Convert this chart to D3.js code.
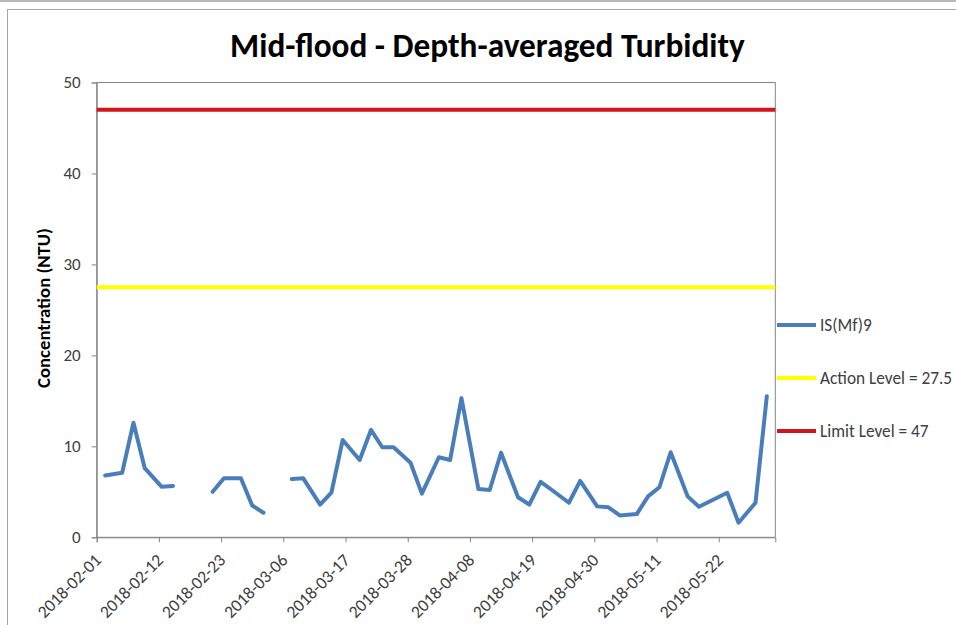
<!DOCTYPE html>
<html>
<head>
<meta charset="utf-8">
<script src="https://cdn.jsdelivr.net/npm/d3@7/dist/d3.min.js"></script>
<style>
  html, body { margin: 0; padding: 0; background: #ffffff; }
  svg { display: block; }
  text { font-family: Carlito, Calibri, Lato, "Open Sans", sans-serif; }
</style>
</head>
<body>
<svg id="chart" width="956" height="625"></svg>
<script>
// ---------------- data ----------------
const sampleDates = [
  "2018-02-02","2018-02-05","2018-02-07","2018-02-09","2018-02-12","2018-02-14","2018-02-16",
  "2018-02-21","2018-02-23","2018-02-26","2018-02-28","2018-03-02","2018-03-05",
  "2018-03-07","2018-03-09","2018-03-12","2018-03-14","2018-03-16","2018-03-19","2018-03-21",
  "2018-03-23","2018-03-25","2018-03-28","2018-03-30","2018-04-02","2018-04-04","2018-04-06",
  "2018-04-09","2018-04-11","2018-04-13","2018-04-16","2018-04-18","2018-04-20","2018-04-22",
  "2018-04-25","2018-04-27","2018-04-30","2018-05-02","2018-05-04","2018-05-07","2018-05-09",
  "2018-05-11","2018-05-13","2018-05-16","2018-05-18","2018-05-23","2018-05-25","2018-05-28",
  "2018-05-30"
];
const turbidity = [
  6.8, 7.1, 12.6, 7.6, 5.55, 5.65, null,
  5.0, 6.5, 6.5, 3.5, 2.7, null,
  6.4, 6.5, 3.6, 4.9, 10.7, 8.5, 11.8,
  9.9, 9.9, 8.2, 4.8, 8.8, 8.5, 15.3,
  5.3, 5.2, 9.3, 4.4, 3.6, 6.1, 5.2,
  3.8, 6.2, 3.4, 3.3, 2.4, 2.55, 4.5,
  5.5, 9.35, 4.5, 3.35, 4.9, 1.6, 3.8,
  15.5
];
const seriesName = "IS(Mf)9";
const actionLevel = 27.5;
const limitLevel = 47;
const legendLabels = ["IS(Mf)9", "Action Level = 27.5", "Limit Level = 47"];
const xDomain = ["2018-02-01", "2018-06-01"];
const xTickLabels = ["2018-02-01","2018-02-12","2018-02-23","2018-03-06","2018-03-17","2018-03-28",
                     "2018-04-08","2018-04-19","2018-04-30","2018-05-11","2018-05-22"];
const yTicks = [0, 10, 20, 30, 40, 50];
const titleText = "Mid-flood - Depth-averaged Turbidity";
const yTitle = "Concentration (NTU)";

// ---------------- layout ----------------
const svg = d3.select("#chart");
const W = 956, H = 625;
const plot = { left: 96.7, right: 775.3, top: 82.5, bottom: 537.3 };
const colors = { series: "#4A7EBB", action: "#FFFF00", limit: "#D0161A", axis: "#868686", text: "#404040" };

const parse = d3.utcParse("%Y-%m-%d");
const HALF_DAY = 12 * 3600 * 1000;

const x = d3.scaleUtc().domain(xDomain.map(parse)).range([plot.left, plot.right]);
const y = d3.scaleLinear().domain([0, 50]).range([plot.bottom, plot.top]);

// outer frame
svg.append("line").attr("x1", 0).attr("x2", W).attr("y1", 1).attr("y2", 1)
   .attr("stroke", "#A0A0A0").attr("stroke-width", 1.5);
svg.append("rect").attr("x", 7.5).attr("y", 9.5).attr("width", W + 20).attr("height", H + 20)
   .attr("fill", "none").attr("stroke", "#A6A6A6").attr("stroke-width", 1);

// title
const title = svg.append("text")
  .attr("x", 487.5).attr("y", 57)
  .attr("text-anchor", "middle")
  .attr("font-weight", "bold")
  .attr("font-size", 28)
  .attr("fill", "#000")
  .text(titleText);
{
  const len = title.node().getComputedTextLength();
  title.attr("font-size", 28 * 515 / len);
}

// plot border
svg.append("rect")
  .attr("x", plot.left).attr("y", plot.top)
  .attr("width", plot.right - plot.left).attr("height", plot.bottom - plot.top)
  .attr("fill", "none").attr("stroke", colors.axis).attr("stroke-width", 1);

// y axis
const yAxis = svg.append("g")
  .attr("transform", `translate(${plot.left},0)`)
  .call(d3.axisLeft(y).tickValues(yTicks).tickSize(5).tickPadding(11).tickFormat(d3.format("d")));
yAxis.select(".domain").attr("stroke", colors.axis);
yAxis.selectAll(".tick line").attr("stroke", colors.axis);
yAxis.selectAll(".tick text").attr("font-size", 17).attr("fill", colors.text)
  .style("font-family", "Carlito, Calibri, Lato, sans-serif");

// x axis
const xAxis = svg.append("g")
  .attr("transform", `translate(0,${plot.bottom})`)
  .call(d3.axisBottom(x).tickValues(xTickLabels.map(parse)).tickSize(5)
        .tickFormat(d3.utcFormat("%Y-%m-%d")));
xAxis.select(".domain").attr("stroke", colors.axis);
xAxis.selectAll(".tick line").attr("stroke", colors.axis);
xAxis.selectAll(".tick text")
  .attr("font-size", 17.5).attr("fill", colors.text)
  .style("font-family", "Carlito, Calibri, Lato, sans-serif")
  .attr("text-anchor", "end")
  .attr("dy", null)
  .attr("y", 0)
  .attr("transform", "translate(5,24) rotate(-45)");

// y title
const yt = svg.append("text")
  .attr("transform", `translate(50,308) rotate(-90)`)
  .attr("text-anchor", "middle")
  .attr("font-weight", "bold")
  .attr("font-size", 14)
  .attr("fill", "#000")
  .text(yTitle);
{
  const len = yt.node().getComputedTextLength();
  yt.attr("font-size", 14 * 160 / len);
}

// reference lines
svg.append("line")
  .attr("x1", plot.left).attr("x2", plot.right)
  .attr("y1", y(actionLevel)).attr("y2", y(actionLevel))
  .attr("stroke", colors.action).attr("stroke-width", 4);
svg.append("line")
  .attr("x1", plot.left).attr("x2", plot.right)
  .attr("y1", y(limitLevel)).attr("y2", y(limitLevel))
  .attr("stroke", colors.limit).attr("stroke-width", 4);

// series
const points = sampleDates.map((d, i) => ({ date: new Date(parse(d).getTime() + HALF_DAY), value: turbidity[i] }));
const line = d3.line()
  .defined(d => d.value !== null)
  .x(d => x(d.date))
  .y(d => y(d.value));
svg.append("path")
  .datum(points)
  .attr("d", line)
  .attr("fill", "none")
  .attr("stroke", colors.series)
  .attr("stroke-width", 4)
  .attr("stroke-linejoin", "round")
  .attr("stroke-linecap", "round");

// legend
const legendColors = [colors.series, colors.action, colors.limit];
const legendY = [325, 378, 431];
const lg = svg.append("g");
legendLabels.forEach((lab, i) => {
  lg.append("line")
    .attr("x1", 777).attr("x2", 816)
    .attr("y1", legendY[i]).attr("y2", legendY[i])
    .attr("stroke", legendColors[i]).attr("stroke-width", 4);
  lg.append("text")
    .attr("x", 820).attr("y", legendY[i])
    .attr("dy", "0.35em")
    .attr("font-size", 17.3)
    .attr("fill", colors.text)
    .text(lab);
});
</script>
</body>
</html>
